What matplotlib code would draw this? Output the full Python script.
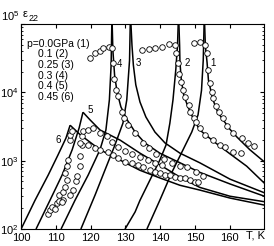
import numpy as np
import matplotlib.pyplot as plt

plt.rcParams['font.family'] = ['Liberation Sans', 'DejaVu Sans']
plt.rcParams['mathtext.fontset'] = 'custom'
plt.rcParams['mathtext.rm'] = 'Liberation Sans'
plt.rcParams['mathtext.it'] = 'Liberation Sans:italic'

# theory curves, (T, eps); "lo" = below Tc, "hi" = above Tc
c1_lo_T = [136.2, 139.9, 143.4, 146.6, 149.1, 150.9, 151.9, 152.4, 152.65]
c1_lo_e = [100, 263, 680, 1450, 2630, 4680, 10700, 29500, 100000]
c1_hi_T = [152.8, 153.0, 153.5, 153.9, 155.2, 156.6, 158.1, 160.1, 162.1, 165.8, 170]
c1_hi_e = [100000, 49000, 27500, 15100, 7800, 5100, 3980, 2880, 2220, 1450, 960]

c2_lo_T = [129.9, 132.8, 134.2, 137.1, 139.9, 141.7, 142.8, 143.7, 144.5, 145.0, 145.2]
c2_lo_e = [100, 178, 263, 525, 1020, 1700, 3550, 7800, 21400, 49000, 100000]
c2_hi_T = [145.4, 145.6, 145.7, 146.1, 146.8, 148.0, 149.4, 151.4, 155.2, 160.1, 164.9, 170]
c2_hi_e = [100000, 49000, 27500, 15100, 9120, 6170, 4270, 2820, 1950, 1260, 832, 468]

c3_lo_T = [117.2, 121.3, 124.1, 127.0, 129.3, 130.4, 131.2, 131.4]
c3_lo_e = [100, 316, 724, 1700, 3550, 7760, 29500, 100000]
c3_hi_T = [131.6, 131.9, 132.3, 133.0, 134.2, 135.9, 138.5, 141.4, 145.7, 151.4, 160.1, 170]
c3_hi_e = [100000, 49000, 25100, 12900, 7240, 4370, 2630, 1820, 1290, 933, 537, 339]

c4_lo_T = [111.5, 115.5, 119.3, 122.7, 124.4, 125.4, 125.9, 126.1]
c4_lo_e = [100, 263, 617, 1450, 2820, 7800, 25100, 100000]
c4_hi_T = [126.2, 126.4, 126.9, 127.6, 128.7, 130.5, 132.8, 135.6, 139.9, 145.7, 151.4, 160.1, 170]
c4_hi_e = [100000, 41700, 17800, 10200, 6170, 3980, 2630, 1820, 1290, 933, 676, 457, 302]

c5_lo_T = [104.3, 108.3, 111.8, 114.7, 116.7, 117.8]
c5_lo_e = [100, 263, 617, 1450, 3020, 5130]
c5_hi_T = [117.8, 119.8, 122.7, 128.5, 134.2, 139.9, 145.7, 151.4, 160.1, 170]
c5_hi_e = [5130, 3980, 2820, 2000, 1290, 871, 575, 407, 302, 251]

c6_lo_T = [100.0, 104.0, 107.8, 110.6, 112.9, 114.1]
c6_lo_e = [100, 263, 617, 1210, 2140, 3310]
c6_hi_T = [114.1, 117.0, 122.7, 128.5, 134.2, 139.9, 145.7, 151.4, 160.1, 170]
c6_hi_e = [3310, 2400, 1450, 1020, 724, 560, 437, 372, 284, 224]

# experiment points
p1_T = [149.7, 151.4, 152.9, 153.5, 153.7, 154.3, 154.9, 155.2, 156.0, 156.9, 158.1, 159.2,
        160.9, 163.5, 165.2, 167.0]
p1_e = [52500, 55000, 49000, 38000, 21400, 13800, 10200, 8320, 6310, 5130, 4270, 3240,
        2570, 2140, 1820, 1660]

p2_T = [134.8, 136.8, 138.5, 140.5, 142.5, 144.3, 144.5, 145.1, 145.4, 146.0, 146.6, 147.1,
        148.3, 148.6, 149.7, 150.3, 151.4, 152.9, 155.2, 157.2, 158.6, 160.9, 163.2]
p2_e = [41700, 43700, 44700, 45700, 51300, 49000, 38000, 26900, 18600, 14100, 10700, 8510,
        6610, 5130, 4270, 3720, 3020, 2400, 2000, 1700, 1580, 1350, 1290]

p4_T = [119.8, 121.3, 122.7, 123.6, 125.3, 126.2, 126.4, 126.7, 127.3, 127.9, 129.0, 129.6,
        130.8, 132.8, 135.1, 136.8, 138.8, 141.1, 143.4, 145.7, 147.7, 150.3, 152.3]
p4_e = [31600, 38000, 40700, 44700, 45700, 44700, 26900, 15800, 10700, 8910, 5130, 4270,
        3310, 2570, 1820, 1550, 1260, 1050, 933, 832, 813, 676, 603]

p5_T = [112.1, 114.1, 114.9, 115.8, 116.1, 117.0, 117.0, 117.5, 117.5, 117.8,
        119.3, 120.7, 122.7, 124.7, 126.2, 127.9, 129.9, 131.9, 134.2, 136.5, 138.5, 140.5]
p5_e = [263, 316, 372, 501, 603, 832, 1170, 1700, 2290, 2690,
        2820, 3020, 2570, 2290, 1860, 1580, 1380, 1260, 1120, 1020, 933, 871]

p6_T = [107.8, 108.3, 108.9, 109.8, 110.3, 110.9, 111.8, 110.9, 112.1, 112.6, 113.2, 112.6,
        113.2, 113.5, 114.1, 114.1, 114.7,
        117.0, 119.3, 121.3, 122.7, 125.0, 126.4, 127.9, 129.9, 131.9, 133.6, 135.1, 137.1,
        138.5, 139.9, 141.4, 142.8, 144.3, 145.7, 147.1, 148.6, 150.0, 150.9]
p6_e = [166, 191, 209, 195, 240, 257, 251, 316, 347, 407, 525, 661,
        832, 1020, 2000, 2400, 2690,
        1820, 1700, 1550, 1450, 1350, 1200, 1100, 955, 933, 871, 813, 724,
        676, 661, 617, 617, 575, 562, 562, 525, 490, 490]

legend_lines = ['p=0.0GPa (1)', '0.1 (2)', '0.25 (3)', '0.3 (4)', '0.4 (5)', '0.45 (6)']
curve_tags = ['1', '2', '3', '4', '5', '6']
tag_T = [154.4, 146.9, 132.9, 127.5, 119.1, 109.8]
tag_e = [27000, 27000, 27000, 26000, 5600, 2000]

fig = plt.figure(figsize=(2.74, 2.46), dpi=100)
ax = fig.add_axes([0.077, 0.069, 0.888, 0.833])

curves = [(c1_lo_T, c1_lo_e), (c1_hi_T, c1_hi_e), (c2_lo_T, c2_lo_e), (c2_hi_T, c2_hi_e),
          (c3_lo_T, c3_lo_e), (c3_hi_T, c3_hi_e), (c4_lo_T, c4_lo_e), (c4_hi_T, c4_hi_e),
          (c5_lo_T, c5_lo_e), (c5_hi_T, c5_hi_e), (c6_lo_T, c6_lo_e), (c6_hi_T, c6_hi_e)]
for t, e in curves:
    ax.plot(t, e, color='black', lw=1.1, solid_capstyle='butt')

for t, e in [(p1_T, p1_e), (p2_T, p2_e), (p4_T, p4_e), (p5_T, p5_e), (p6_T, p6_e)]:
    ax.plot(t, e, 'o', ls='none', ms=4, mfc='white', mec='black', mew=0.6)

for s, t, e in zip(curve_tags, tag_T, tag_e):
    ax.text(t, e, s, fontsize=7, ha='left', va='center')

for i, s in enumerate(legend_lines):
    x = 0.025 if i == 0 else 0.07
    ax.text(x, 0.905 - i * 0.052, s, transform=ax.transAxes, fontsize=7.5, va='center')

ax.set_yscale('log')
ax.set_xlim(100, 170)
ax.set_ylim(100, 100000)
ax.set_xticks([100, 110, 120, 130, 140, 150, 160])
ax.set_xticklabels(['100', '110', '120', '130', '140', '150', '160'])
ax.set_yticks([1e2, 1e3, 1e4, 1e5])
ax.set_yticklabels(['$10^2$', '$10^3$', '$10^4$', ''])
ax.tick_params(which='both', direction='in', top=True, right=True, labelsize=8, pad=2)
ax.tick_params(axis='x', pad=3)
ax.tick_params(which='major', length=3)
ax.tick_params(which='minor', length=1.5)
# top label sits a little higher than its tick in the original
ax.text(-0.008, 1.04, '$10^5$', transform=ax.transAxes, ha='right', va='center', fontsize=8)
ax.text(167.3, -0.034, 'T, K', transform=ax.get_xaxis_transform(), ha='center', va='center',
        fontsize=8)
fig.text(0.082, 0.945, 'ε', fontsize=8, ha='left', va='center')
fig.text(0.105, 0.925, '22', fontsize=6.5, ha='left', va='center')

fig.savefig('out.png', dpi=100)
